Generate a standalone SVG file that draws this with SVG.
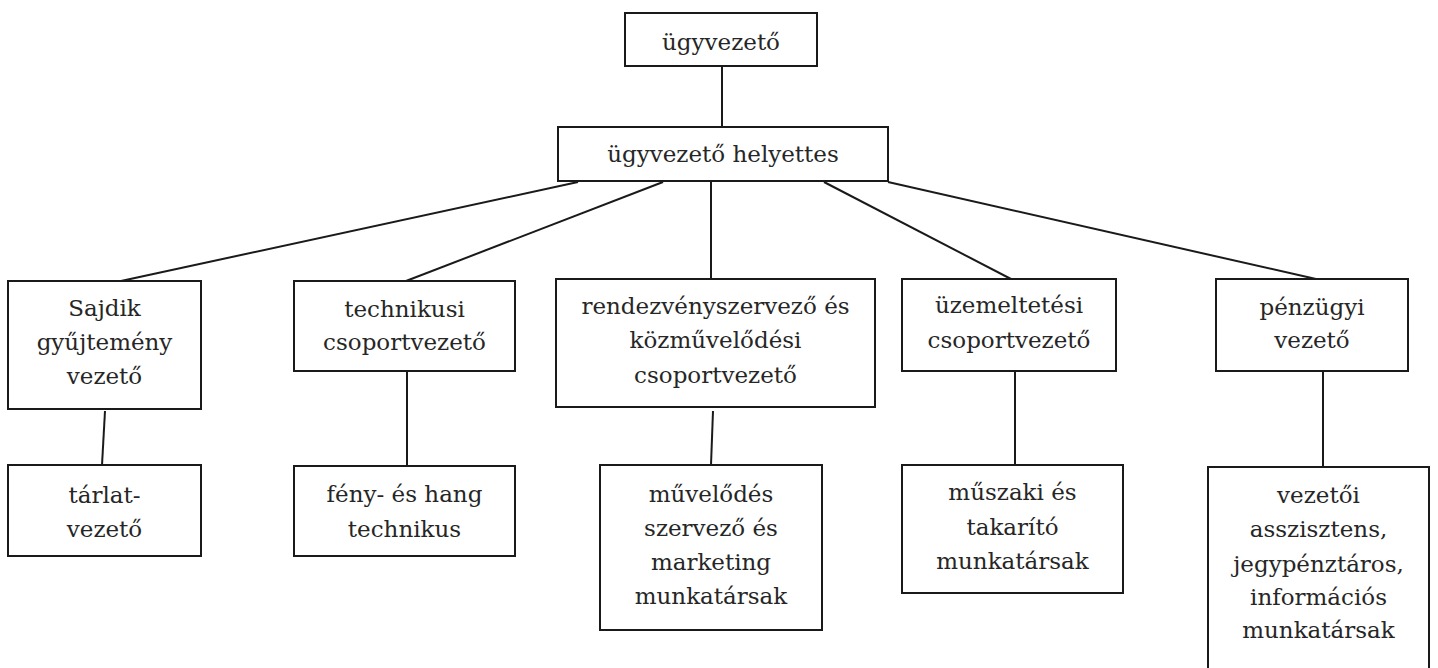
<svg xmlns="http://www.w3.org/2000/svg" width="1438" height="668" viewBox="0 0 1438 668">
<style>
.box{fill:#fff;stroke:#1a1a1a;stroke-width:2}
.t{font-family:"DejaVu Serif","Liberation Serif",serif;font-size:23px;fill:#262626;text-anchor:middle}
.c{stroke:#1a1a1a;stroke-width:2;fill:none}
</style>
<rect width="1438" height="668" fill="#fff"/>
<g id="connectors">
<line class="c" x1="722" y1="66" x2="722" y2="127"/>
<line class="c" x1="578" y1="182" x2="121" y2="281"/>
<line class="c" x1="663" y1="182" x2="406" y2="281"/>
<line class="c" x1="711" y1="182" x2="711" y2="279"/>
<line class="c" x1="824" y1="182" x2="1011" y2="279"/>
<line class="c" x1="888" y1="182" x2="1316" y2="279"/>
<line class="c" x1="105" y1="411" x2="102" y2="465"/>
<line class="c" x1="407" y1="371" x2="407" y2="466"/>
<line class="c" x1="713" y1="411" x2="711" y2="465"/>
<line class="c" x1="1015" y1="371" x2="1015" y2="465"/>
<line class="c" x1="1323" y1="371" x2="1323" y2="467"/>
</g>
<g id="n-ugyvezeto">
<rect class="box" x="625" y="13" width="192" height="53"/>
<text class="t" x="721" y="50">ügyvezető</text>
</g>
<g id="n-helyettes">
<rect class="box" x="558" y="127" width="330" height="54"/>
<text class="t" x="723" y="162">ügyvezető helyettes</text>
</g>
<g id="n-sajdik">
<rect class="box" x="8" y="281" width="193" height="128"/>
<text class="t" x="104.5" y="316">Sajdik</text>
<text class="t" x="104.5" y="350">gyűjtemény</text>
<text class="t" x="104.5" y="384">vezető</text>
</g>
<g id="n-technikusi">
<rect class="box" x="294" y="281" width="221" height="90"/>
<text class="t" x="404.5" y="317">technikusi</text>
<text class="t" x="404.5" y="350">csoportvezető</text>
</g>
<g id="n-rendezveny">
<rect class="box" x="556" y="279" width="319" height="128"/>
<text class="t" x="715.5" y="314">rendezvényszervező és</text>
<text class="t" x="715.5" y="348">közművelődési</text>
<text class="t" x="715.5" y="383">csoportvezető</text>
</g>
<g id="n-uzemeltetesi">
<rect class="box" x="902" y="279" width="214" height="92"/>
<text class="t" x="1009" y="313">üzemeltetési</text>
<text class="t" x="1009" y="348">csoportvezető</text>
</g>
<g id="n-penzugyi">
<rect class="box" x="1216" y="279" width="192" height="92"/>
<text class="t" x="1312" y="315">pénzügyi</text>
<text class="t" x="1312" y="348">vezető</text>
</g>
<g id="n-tarlat">
<rect class="box" x="8" y="465" width="193" height="91"/>
<text class="t" x="104.5" y="503">tárlat-</text>
<text class="t" x="104.5" y="537">vezető</text>
</g>
<g id="n-feny">
<rect class="box" x="294" y="466" width="221" height="90"/>
<text class="t" x="404.5" y="502">fény- és hang</text>
<text class="t" x="404.5" y="537">technikus</text>
</g>
<g id="n-muvelodes">
<rect class="box" x="600" y="465" width="222" height="165"/>
<text class="t" x="711" y="502">művelődés</text>
<text class="t" x="711" y="536">szervező és</text>
<text class="t" x="711" y="570">marketing</text>
<text class="t" x="711" y="604">munkatársak</text>
</g>
<g id="n-muszaki">
<rect class="box" x="902" y="465" width="221" height="128"/>
<text class="t" x="1012.5" y="500">műszaki és</text>
<text class="t" x="1012.5" y="535">takarító</text>
<text class="t" x="1012.5" y="569">munkatársak</text>
</g>
<g id="n-vezetoi">
<rect class="box" x="1208" y="467" width="221" height="240"/>
<text class="t" x="1318.5" y="503">vezetői</text>
<text class="t" x="1318.5" y="537">asszisztens,</text>
<text class="t" x="1318.5" y="572">jegypénztáros,</text>
<text class="t" x="1318.5" y="605">információs</text>
<text class="t" x="1318.5" y="638">munkatársak</text>
</g>
</svg>
